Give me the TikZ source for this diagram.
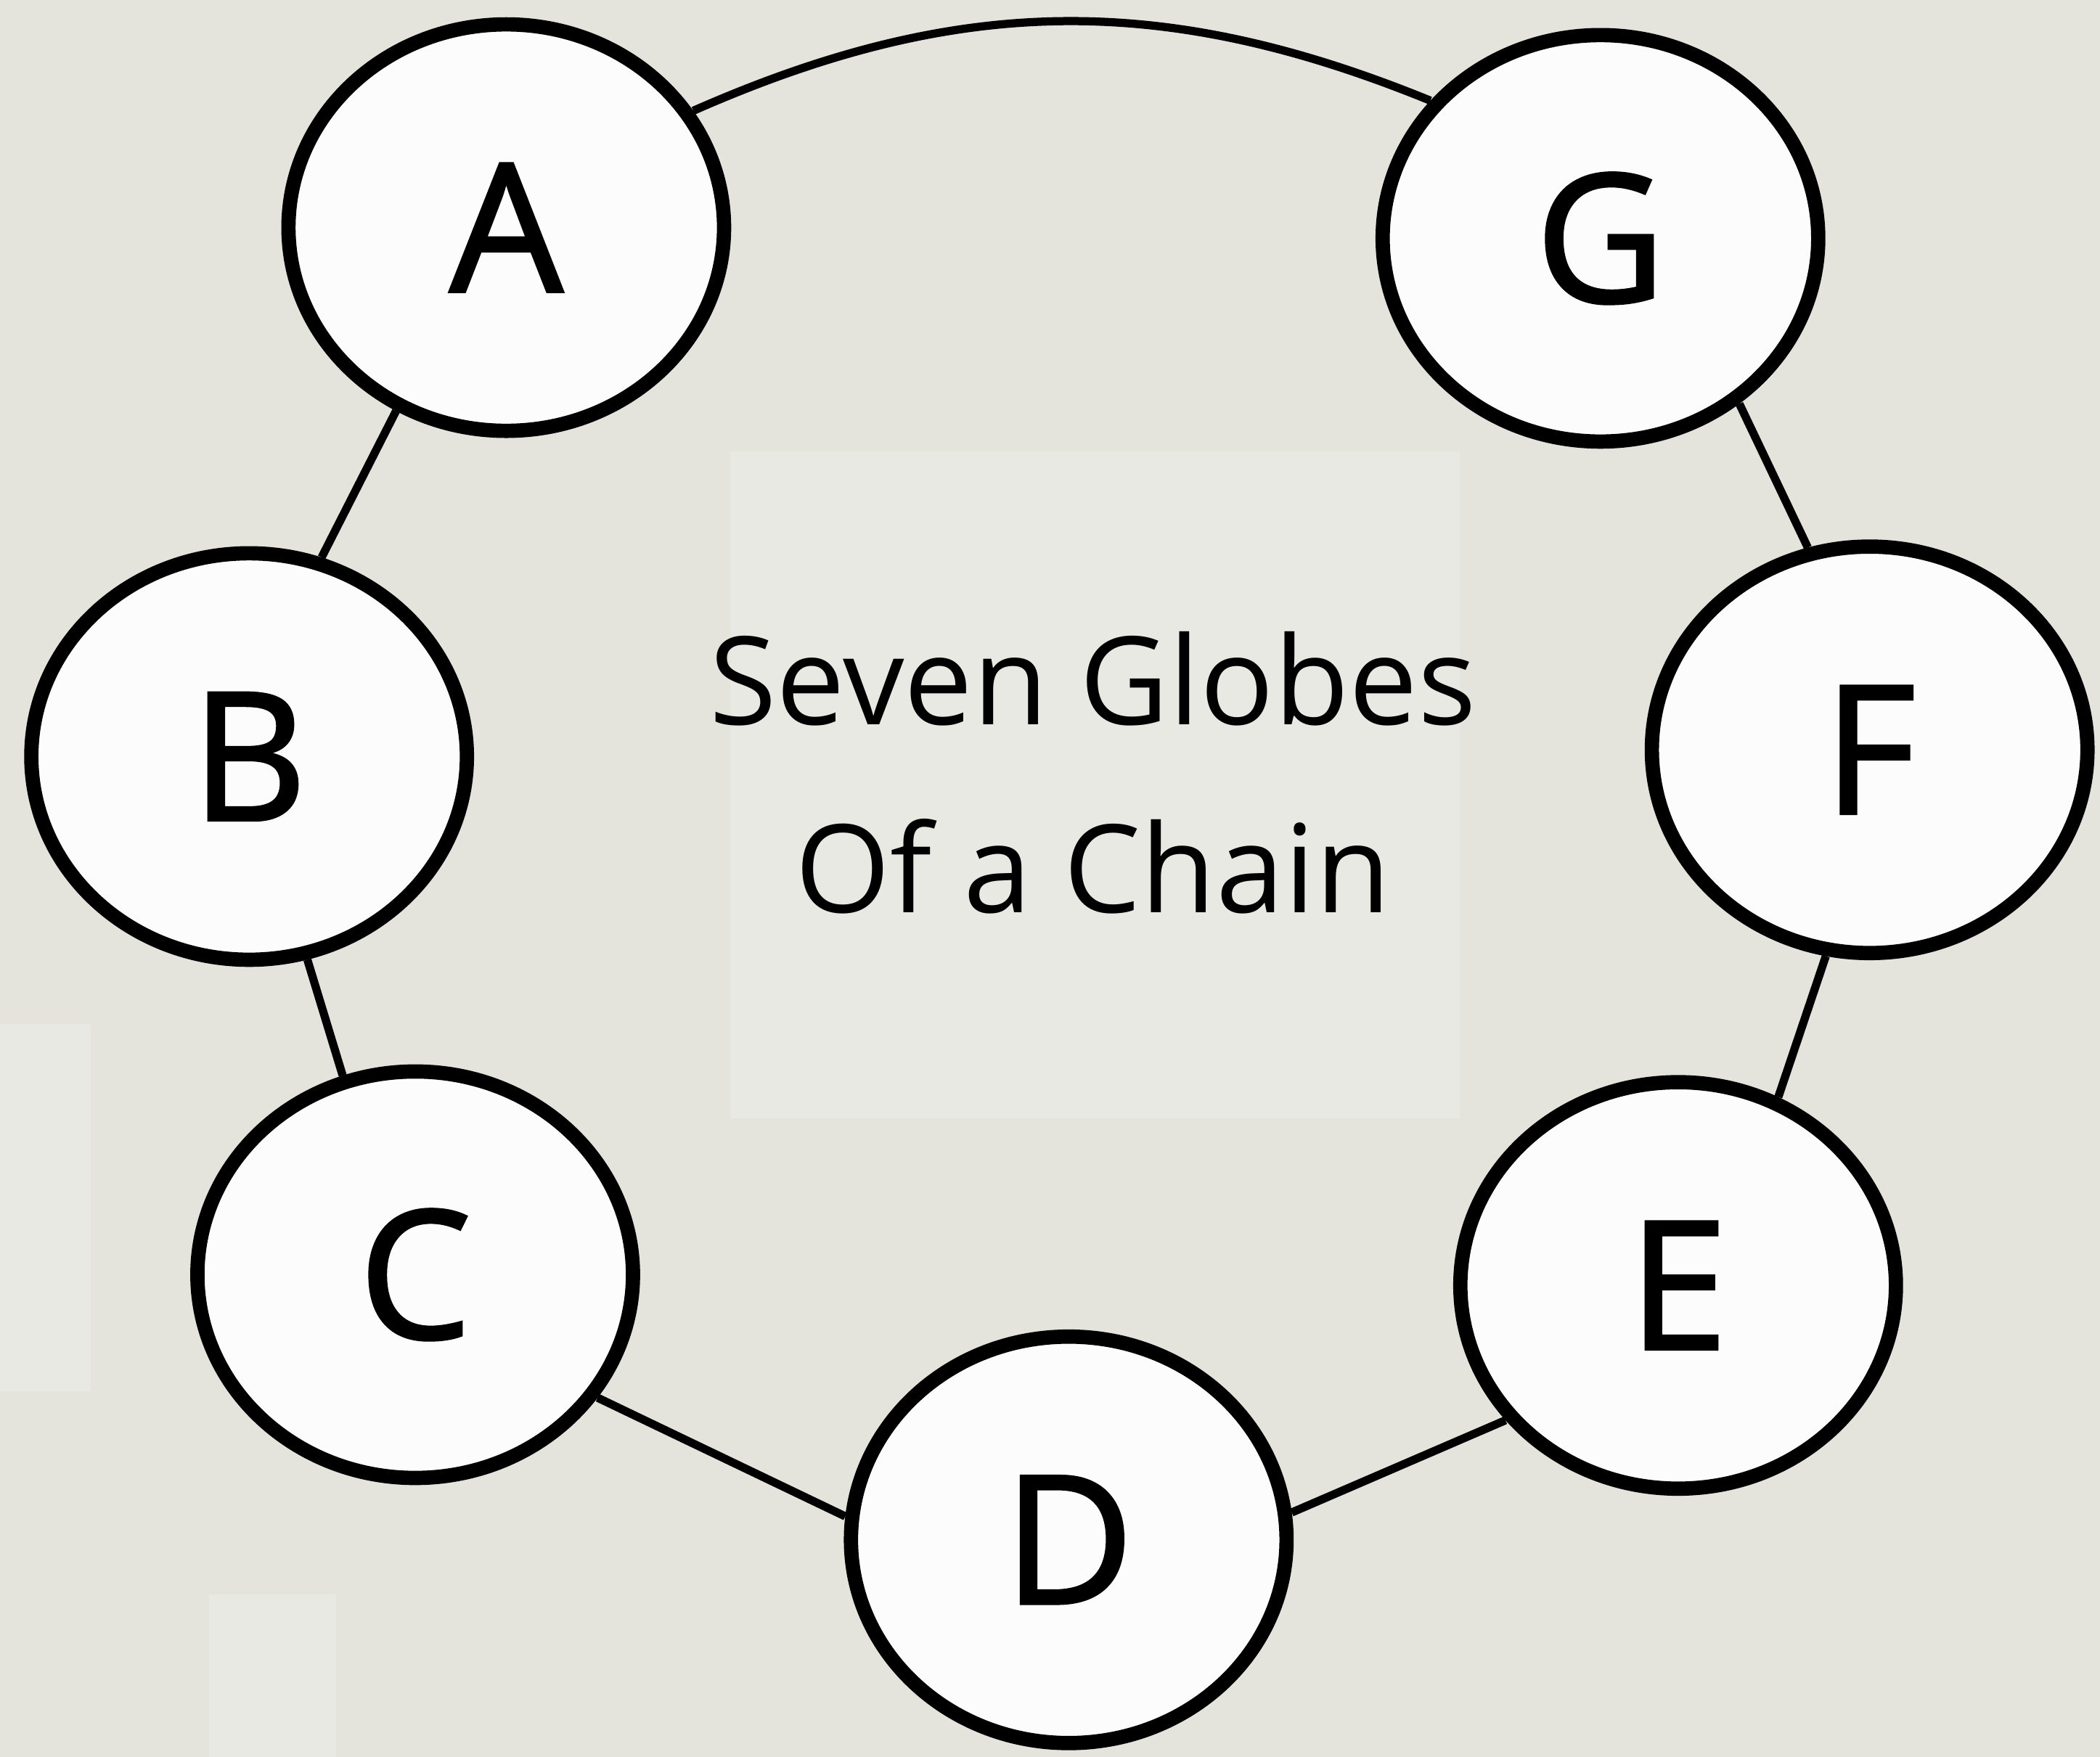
\documentclass[tikz,border=0pt]{standalone}
\usepackage{fontspec}
\setmainfont{Open Sans}
\newfontfamily\globefont[FakeBold=1.6]{Open Sans}
\usetikzlibrary{shapes.geometric}
\definecolor{paper}{HTML}{E4E3DC}
\definecolor{panel}{HTML}{E9E9E3}
\definecolor{globefill}{HTML}{FCFCFD}

\begin{document}
\begin{tikzpicture}
  [x=0.01845cm, y=0.01845cm,
   globe/.style={ellipse,
                 draw,
                 line width=5.6pt,
                 fill=globefill,
                 minimum width=6.0cm,
                 minimum height=5.6cm,
                 inner sep=0pt,
                 font=\globefont\fontsize{70}{70}\selectfont},
   link/.style={line width=3.2pt}]
  \fill[paper] (0,0) rectangle (1568,1312);
  \useasboundingbox (0,0) rectangle (1568,1312);
  % lighter panels
  \fill[panel] (545,477) rectangle (1090,975);
  \fill[panel] (0,273) rectangle (68,547);
  \fill[panel] (156,0) rectangle (251,121);
  \node (title) at (816,735)
    [align=center, inner sep=0pt,
     font=\fontsize{48}{73.5}\selectfont] {Seven Globes\\Of a Chain};
  % the globes
  \node[globe] (A) at (378,1142) {A};
  \node[globe] (G) at (1195,1134) {G};
  \node[globe] (B) at (186,747) {B};
  \node[globe] (F) at (1396,752) {F};
  \node[globe] (C) at (310,360) {C};
  \node[globe] (E) at (1253,352) {E};
  \node[globe] (D) at (798,162) {D};
  % the chain
  \draw[link] (A.32) to[bend left=23] (G.141);
  \draw[link] (A.-121) -- (B.70);
  \draw[link] (B.-74) -- (C.110);
  \draw[link] (C.-34) -- (D.174);
  \draw[link] (D.7) -- (E.-142);
  \draw[link] (E.62) -- (F.-102);
  \draw[link] (F.107) -- (G.-50);
\end{tikzpicture}
\end{document}
